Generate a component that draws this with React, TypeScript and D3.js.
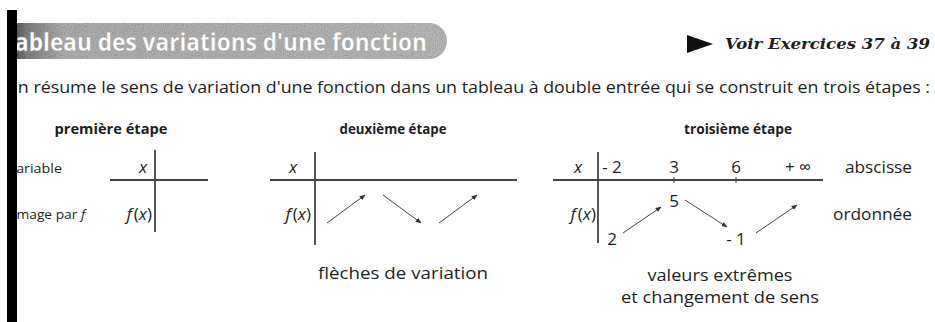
import * as d3 from 'd3'

const titre = "Tableau des variations d'une fonction"
const renvoi = 'Voir Exercices 37 à 39'
const phrase = "On résume le sens de variation d'une fonction dans un tableau à double entrée qui se construit en trois étapes :"
const etapes = ['première étape', 'deuxième étape', 'troisième étape']
const lignes = ['variable', 'image par ']
const fleches2 = ['monte', 'descend', 'monte']
const abscisses = ['- 2', '3', '6', '+ ∞']
const ordonnees = ['2', '5', '- 1', '']
const niveaux = ['bas', 'haut', 'bas', 'haut']
const legende2 = ['flèches de variation']
const legende3 = ['valeurs extrêmes', 'et changement de sens']
const etiquettes3 = ['abscisse', 'ordonnée']

const W = 935
const H = 322
const ink = '#1e1e1e'
const sans = '"Open Sans", "DejaVu Sans", sans-serif'

// ligne des x et de f(x) communes aux trois tableaux
const yX = 173
const yF = 220
const yTrait = 180

const Math = ({ x, y, anchor = 'middle', children }: any) => (
  <text x={x} y={y} textAnchor={anchor} fontFamily={sans} fontStyle="italic" fontSize={17} fill={ink}>{children}</text>
)

const FX = ({ x }: { x: number }) => (
  <Math x={x} y={yF} anchor="end">
    f<tspan fontStyle="normal" dx={2}>(</tspan>x<tspan fontStyle="normal">)</tspan>
  </Math>
)

export default function App() {
  // troisième tableau : colonnes et niveaux
  const col3 = d3.scalePoint<string>().domain(abscisses).range([612, 798])
  const niv = d3.scalePoint<string>().domain(['haut', 'bas']).range([207, 245])

  // deuxième tableau : une colonne par flèche
  const col2 = d3.scalePoint<number>().domain(d3.range(fleches2.length)).range([346, 458])
  const sens = d3.scaleOrdinal<string, number>().domain(['monte', 'descend']).range([-1, 1])

  const fleches3 = d3.pairs(abscisses.map((a, i) => ({ a, v: ordonnees[i], n: niveaux[i] })))
  const seg = ([p, q]: any) => {
    const x0 = col3(p.a)! + (p.v.length > 1 ? 20 : 11)
    const x1 = col3(q.a)! - (q.v.length > 1 ? 9 : q.v ? 13 : 1)
    const y0 = p.n === 'haut' ? niv('haut')! - 7 : niv('bas')! - 12
    const y1 = q.n === 'haut' ? niv('haut')! + (q.v ? 0 : -2) : niv('bas')! - 18
    return [x0, y0, x1, y1]
  }

  return (
    <svg width={W} height={H} style={{ position: 'absolute', left: 0, top: 0, background: '#fff' }}>
      <defs>
        <clipPath id="page">
          <rect x={7} y={0} width={W - 7} height={H} />
        </clipPath>
        <linearGradient id="bandeau" x1="0" x2="1">
          <stop offset="0" stopColor="#2a2a2a" />
          <stop offset="0.06" stopColor="#8a8a8a" />
          <stop offset="0.14" stopColor="#bcbcbc" />
          <stop offset="1" stopColor="#c6c6c6" />
        </linearGradient>
        <filter id="grain">
          <feTurbulence type="fractalNoise" baseFrequency="0.9" numOctaves={1} result="n" />
          <feColorMatrix in="n" type="saturate" values="0" result="g" />
          <feComposite in="g" in2="SourceGraphic" operator="in" result="m" />
          <feBlend in="SourceGraphic" in2="m" mode="multiply" />
        </filter>
        <marker id="pointe" viewBox="0 0 10 10" refX="9" refY="5" markerWidth="6" markerHeight="6" orient="auto">
          <path d="M0,1 L10,5 L0,9 Z" fill="#333" />
        </marker>
      </defs>

      <g clipPath="url(#page)">
        {/* bandeau du titre */}
        <rect x={0} y={23} width={447} height={36} rx={18} fill="url(#bandeau)" filter="url(#grain)" />
        <text x={2} y={51} fontFamily={sans} fontWeight="bold" fontSize={25} fill="#fff" stroke="#9a9a9a" strokeWidth={0.4}
          textLength={425} lengthAdjust="spacingAndGlyphs">{titre}</text>

        <text x={4} y={93} fontFamily={sans} fontSize={16.5} fill={ink} textLength={926} lengthAdjust="spacingAndGlyphs">{phrase}</text>

        <text x={9} y={173} fontFamily={sans} fontSize={13.5} fill={ink} textLength={53} lengthAdjust="spacingAndGlyphs">{lignes[0]}</text>
        <text x={13} y={219} fontFamily={sans} fontSize={13.5} fill={ink}>
          <tspan textLength={68} lengthAdjust="spacingAndGlyphs">{lignes[1]}</tspan>
          <tspan fontStyle="italic">f</tspan>
        </text>
      </g>

      <path d="M687,35 L713,44 L687,53 Z" fill="#111" />
      <text x={725} y={49} fontFamily='"DejaVu Serif", serif' fontStyle="italic" fontWeight="bold" fontSize={15} fill={ink}
        textLength={205} lengthAdjust="spacingAndGlyphs">{renvoi}</text>

      {etapes.map((e, i) => (
        <text key={e} x={[111, 393, 738][i]} y={134} textAnchor="middle" fontFamily={sans} fontWeight="bold" fontSize={14}
          fill={ink} textLength={[113, 107, 108][i]} lengthAdjust="spacingAndGlyphs">{e}</text>
      ))}

      {/* premier tableau */}
      <Math x={143} y={yX}>x</Math>
      <FX x={152} />
      <line x1={110} x2={208} y1={yTrait} y2={yTrait} stroke="#444" strokeWidth={1.8} />
      <line x1={155} x2={155} y1={150} y2={232} stroke="#444" strokeWidth={1.8} />

      {/* deuxième tableau */}
      <Math x={293} y={yX}>x</Math>
      <FX x={311} />
      <line x1={270} x2={517} y1={yTrait} y2={yTrait} stroke="#444" strokeWidth={1.8} />
      <line x1={315} x2={315} y1={152} y2={245} stroke="#444" strokeWidth={1.8} />
      {fleches2.map((f, i) => {
        const cx = col2(i)!
        const s = sens(f)
        return (
          <line key={i} x1={cx - 19} x2={cx + 19} y1={209 - s * 14} y2={209 + s * 14}
            stroke="#444" strokeWidth={1} markerEnd="url(#pointe)" />
        )
      })}
      <text x={403} y={279} textAnchor="middle" fontFamily={sans} fontSize={17} fill={ink}
        textLength={170} lengthAdjust="spacingAndGlyphs">{legende2[0]}</text>

      {/* troisième tableau */}
      <Math x={578} y={yX}>x</Math>
      <FX x={596} />
      <line x1={553} x2={823} y1={yTrait} y2={yTrait} stroke="#444" strokeWidth={1.8} />
      <line x1={598} x2={598} y1={152} y2={243} stroke="#444" strokeWidth={1.8} />
      {abscisses.map((a, i) => (
        <g key={a}>
          <text x={col3(a)!} y={yX} textAnchor="middle" fontFamily={sans} fontSize={17} fill={ink}>{a}</text>
          {i > 0 && i < abscisses.length - 1 && (
            <line x1={col3(a)!} x2={col3(a)!} y1={yTrait - 3} y2={yTrait + 3} stroke="#444" strokeWidth={1} />
          )}
        </g>
      ))}
      {ordonnees.map((v, i) => v && (
        <text key={i} x={col3(abscisses[i])!} y={niv(niveaux[i])!} textAnchor="middle" fontFamily={sans} fontSize={17} fill={ink}>{v}</text>
      ))}
      {fleches3.map((p, i) => {
        const [x0, y0, x1, y1] = seg(p)
        return <line key={i} x1={x0} y1={y0} x2={x1} y2={y1} stroke="#444" strokeWidth={1} markerEnd="url(#pointe)" />
      })}
      <text x={845} y={yX} fontFamily={sans} fontSize={16} fill={ink} textLength={67} lengthAdjust="spacingAndGlyphs">{etiquettes3[0]}</text>
      <text x={833} y={yF} fontFamily={sans} fontSize={16} fill={ink} textLength={79} lengthAdjust="spacingAndGlyphs">{etiquettes3[1]}</text>
      {legende3.map((t, i) => (
        <text key={t} x={720} y={281 + i * 22} textAnchor="middle" fontFamily={sans} fontSize={17} fill={ink}
          textLength={[145, 198][i]} lengthAdjust="spacingAndGlyphs">{t}</text>
      ))}

      {/* filet noir de la marge */}
      <rect x={7} y={10} width={10} height={H - 10} fill="#000" />
    </svg>
  )
}
